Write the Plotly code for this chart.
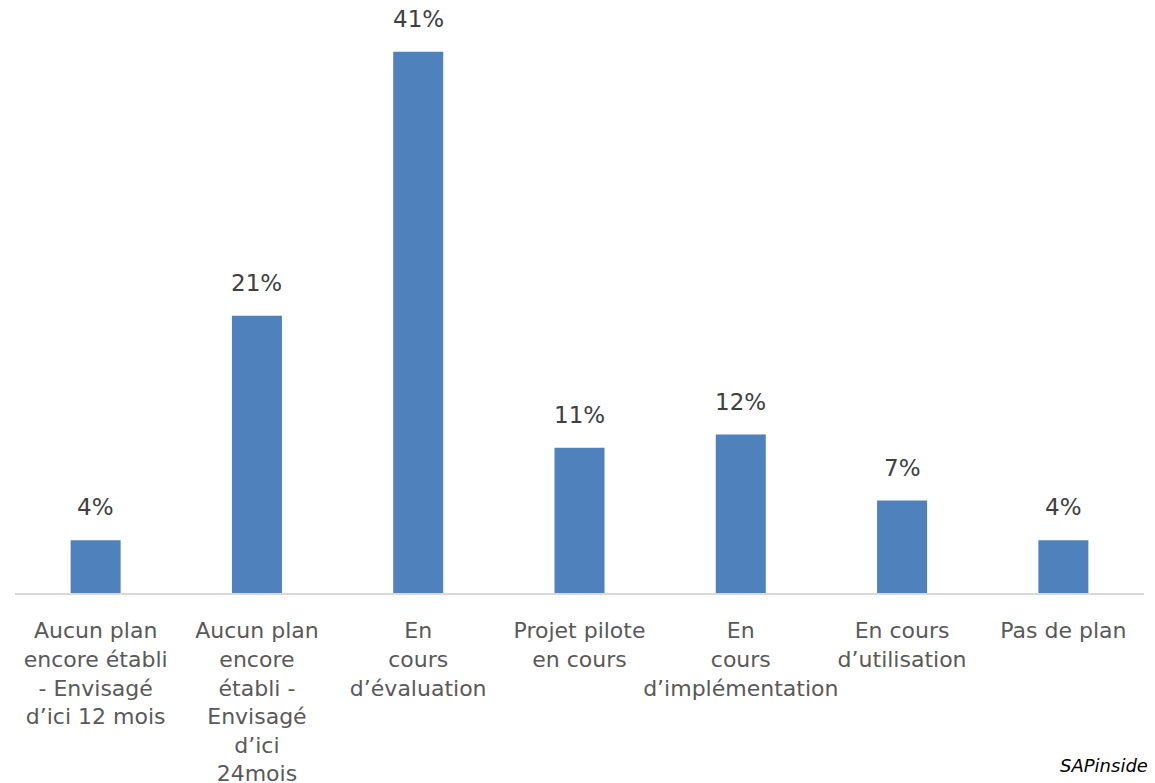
import plotly.graph_objects as go

categories = [
    "Aucun plan<br>encore établi<br>- Envisagé<br>d’ici 12 mois",
    "Aucun plan<br>encore<br>établi -<br>Envisagé<br>d’ici<br>24mois",
    "En<br>cours<br>d’évaluation",
    "Projet pilote<br>en cours",
    "En<br>cours<br>d’implémentation",
    "En cours<br>d’utilisation",
    "Pas de plan",
]
values = [4, 21, 41, 11, 12, 7, 4]
labels = [f"{v}%" for v in values]

W, H = 1155, 783
ML, MR, MT, MB = 7, 19, 12, 198
plot_w = W - ML - MR
plot_h = H - MT - MB

fig = go.Figure(
    go.Bar(
        x=categories,
        y=values,
        marker=dict(color="#4F81BD", line=dict(width=0)),
        width=0.31,
        hoverinfo="x+y",
    )
)

annotations = [
    dict(
        x=c,
        y=v,
        xref="x",
        yref="y",
        text=t,
        showarrow=False,
        yanchor="bottom",
        yshift=18,
        font=dict(family="DejaVu Sans", size=23, color="#404040"),
    )
    for c, v, t in zip(categories, values, labels)
]

annotations.append(
    dict(
        text="<i>SAPinsider</i>",
        xref="paper",
        yref="paper",
        x=(1058 - 8 - ML) / plot_w,
        y=-(765 - 8 - (MT + plot_h)) / plot_h,
        xanchor="left",
        yanchor="middle",
        showarrow=False,
        font=dict(family="DejaVu Sans", size=18, color="#000000"),
    )
)

fig.update_layout(
    width=W,
    height=H,
    margin=dict(l=ML, r=MR, t=MT, b=MB),
    paper_bgcolor="white",
    plot_bgcolor="white",
    showlegend=False,
    font=dict(family="DejaVu Sans", color="#595959"),
    xaxis=dict(
        automargin=False,
        showline=True,
        linecolor="#D9D9D9",
        linewidth=2,
        showgrid=False,
        ticks="outside",
        ticklen=17,
        tickcolor="rgba(0,0,0,0)",
        tickfont=dict(family="DejaVu Sans", size=22, color="#595959"),
        tickangle=0,
    ),
    yaxis=dict(
        automargin=False,
        visible=False,
        range=[0, 43.4],
    ),
    annotations=annotations,
)

fig.write_html("out.html")
